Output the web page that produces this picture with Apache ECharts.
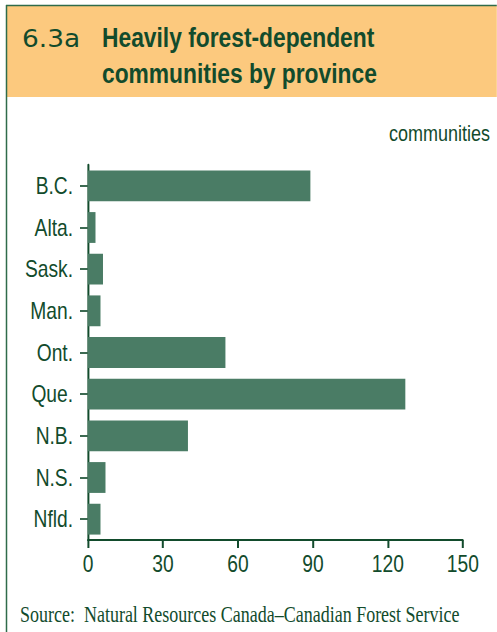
<!DOCTYPE html>
<html>
<head>
<meta charset="utf-8">
<script src="https://cdn.jsdelivr.net/npm/echarts@6/dist/echarts.min.js"></script>
<style>
  html, body { margin: 0; padding: 0; background: #ffffff; overflow: hidden; }
  /* the figure is set in a condensed face: draw on a wider stage and squeeze it horizontally */
  #chart { width: 621.25px; height: 632px; transform: scaleX(0.8); transform-origin: 0 0; }
</style>
</head>
<body>
<div id="chart"></div>
<script>
// Heavily forest-dependent communities, counted by province
const provinces = ['B.C.', 'Alta.', 'Sask.', 'Man.', 'Ont.', 'Que.', 'N.B.', 'N.S.', 'Nfld.'];
const communities = [89, 3, 6, 5, 55, 127, 40, 7, 5];
const xTicks = [0, 30, 60, 90, 120, 150];

const SQ = 0.8;                 // horizontal squeeze applied to the stage
const px = v => v / SQ;         // page x -> stage x

const ink = '#124b2c';
const frame = '#2f6b4a';
const barColor = '#4a7c65';
const headerFill = '#fcc97e';
const sans = '"Liberation Sans", Arial, sans-serif';

const chart = echarts.init(document.getElementById('chart'), null, { renderer: 'svg' });

chart.setOption({
  animation: false,
  backgroundColor: '#ffffff',
  grid: { left: px(88), right: px(34), top: 165, bottom: 92, containLabel: false },
  xAxis: {
    type: 'value',
    min: xTicks[0],
    max: xTicks[xTicks.length - 1],
    interval: xTicks[1] - xTicks[0],
    axisLine: { show: true, lineStyle: { color: ink, width: 2 } },
    axisTick: { show: true, length: 8, lineStyle: { color: ink, width: px(2) } },
    splitLine: { show: false },
    axisLabel: { color: ink, fontFamily: sans, fontSize: 24, margin: 12 }
  },
  yAxis: {
    type: 'category',
    inverse: true,
    data: provinces,
    axisLine: { show: true, lineStyle: { color: ink, width: px(2) } },
    axisTick: { show: true, alignWithLabel: true, length: px(8), lineStyle: { color: '#3d6a52', width: 2 } },
    axisLabel: { color: ink, fontFamily: sans, fontSize: 24, margin: px(15) }
  },
  series: [{
    type: 'bar',
    data: communities,
    barCategoryGap: '26%',
    itemStyle: { color: barColor },
    silent: true
  }],
  graphic: [
    // header band and frame
    { type: 'rect', shape: { x: px(7), y: 6, width: px(490), height: 91 }, style: { fill: headerFill }, silent: true },
    { type: 'line', shape: { x1: px(6), y1: 5.5, x2: px(497), y2: 5.5 }, style: { stroke: frame, lineWidth: 1.5 }, silent: true },
    { type: 'line', shape: { x1: px(6.5), y1: 5, x2: px(6.5), y2: 632 }, style: { stroke: frame, lineWidth: px(1.5) }, silent: true },
    // figure number (a round, wide face, so undo the squeeze) and title
    { type: 'text', x: px(22), y: 51, scaleX: 1.1 / SQ, style: { text: '6.3a', fill: ink, font: '24px "DejaVu Sans", sans-serif', verticalAlign: 'bottom' }, silent: true },
    { type: 'text', x: px(102), y: 52, style: { text: 'Heavily forest-dependent', fill: ink, font: 'bold 28.5px ' + sans, verticalAlign: 'bottom' }, silent: true },
    { type: 'text', x: px(102), y: 88, style: { text: 'communities by province', fill: ink, font: 'bold 28.5px ' + sans, verticalAlign: 'bottom' }, silent: true },
    // unit label
    { type: 'text', x: px(490), y: 145, style: { text: 'communities', fill: ink, font: '22.5px ' + sans, align: 'right', verticalAlign: 'bottom' }, silent: true },
    // source line
    { type: 'text', x: px(20), y: 626, style: { text: 'Source:  Natural Resources Canada\u2013Canadian Forest Service', fill: ink, font: '22.5px "Liberation Serif", "Times New Roman", serif', verticalAlign: 'bottom' }, silent: true }
  ]
});
</script>
</body>
</html>
